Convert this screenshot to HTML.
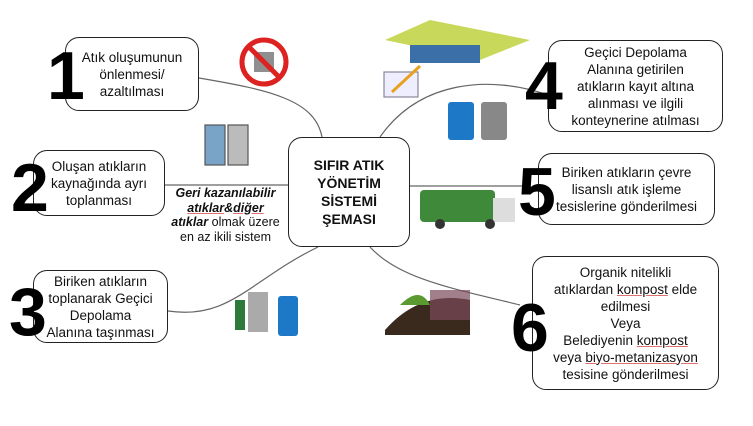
<!DOCTYPE html>
<html><head><meta charset="utf-8"><style>
body{margin:0;width:753px;height:426px;background:#fff;position:relative;overflow:hidden;font-family:"Liberation Sans",sans-serif;}
.b{position:absolute;border:1.5px solid #222;border-radius:14px;background:#fff;box-sizing:border-box;display:flex;align-items:center;justify-content:center;text-align:center;font-size:13.5px;line-height:17px;color:#111;}
.b>div{display:block;white-space:nowrap;}
.n{position:absolute;font-weight:bold;font-size:68px;line-height:1;color:#000;font-family:"Liberation Sans",sans-serif;}
.u{text-decoration:underline;text-decoration-color:#e07070;}
</style></head><body>
<svg width="753" height="426" style="position:absolute;left:0;top:0" fill="none" stroke="#666" stroke-width="1.2">
<path d="M199 78 C270 90 315 100 322 137"/>
<path d="M165 185 L288 185"/>
<path d="M168 311 C230 320 250 280 318 247"/>
<path d="M370 247 C400 280 460 290 520 305"/>
<path d="M380 137 C420 80 490 75 548 95"/>
<path d="M409 186 L525 186"/>
<circle cx="264" cy="62" r="22" stroke="#d22" stroke-width="5" fill="#fff"/>
<rect x="254" y="52" width="20" height="20" fill="#444" stroke="none" opacity=".6"/>
<line x1="249" y1="47" x2="279" y2="77" stroke="#d22" stroke-width="5"/>
<rect x="205" y="125" width="20" height="40" fill="#7aa3c8" stroke="#555"/>
<rect x="228" y="125" width="20" height="40" fill="#bbb" stroke="#555"/>
<polygon points="385,40 430,20 530,40 480,60" fill="#c8d85a" stroke="none"/>
<rect x="410" y="45" width="70" height="18" fill="#3a6fa8" stroke="none"/>
<rect x="384" y="72" width="34" height="25" fill="#eef" stroke="#889"/>
<line x1="392" y1="92" x2="420" y2="66" stroke="#e8a020" stroke-width="3"/>
<rect x="448" y="102" width="26" height="38" rx="3" fill="#1e78c8" stroke="none"/>
<rect x="481" y="102" width="26" height="38" rx="3" fill="#888" stroke="none"/>
<rect x="420" y="190" width="75" height="32" rx="4" fill="#3f8a3a" stroke="none"/>
<rect x="493" y="198" width="22" height="24" fill="#ddd" stroke="none"/>
<circle cx="440" cy="224" r="5" fill="#333" stroke="none"/><circle cx="490" cy="224" r="5" fill="#333" stroke="none"/>
<rect x="235" y="300" width="10" height="30" fill="#2b7a3a" stroke="none"/>
<rect x="248" y="292" width="20" height="40" fill="#aaa" stroke="none"/>
<rect x="278" y="296" width="20" height="40" rx="3" fill="#1e78c8" stroke="none"/>
<path d="M385 330 Q420 290 470 300 L470 335 L385 335Z" fill="#3a2a1e" stroke="none"/>
<path d="M400 305 q20 -20 30 0" fill="#5a9a30" stroke="none"/>
<rect x="430" y="290" width="40" height="30" fill="#7a4a5a" stroke="none" opacity=".7"/>
</svg>
<div class="b" style="left:65px;top:37px;width:134px;height:74px;"><div>Atık oluşumunun<br>önlenmesi/<br>azaltılması</div></div>
<div class="n" style="left:47px;top:42px;">1</div>
<div class="b" style="left:33px;top:150px;width:132px;height:66px;"><div>Oluşan atıkların<br>kaynağında ayrı<br>toplanması</div></div>
<div class="n" style="left:11px;top:154px;">2</div>
<div class="b" style="left:33px;top:270px;width:135px;height:73px;"><div>Biriken atıkların<br>toplanarak Geçici<br>Depolama<br>Alanına taşınması</div></div>
<div class="n" style="left:9px;top:278px;">3</div>
<div class="b" style="left:548px;top:40px;width:175px;height:92px;"><div>Geçici Depolama<br>Alanına getirilen<br>atıkların kayıt altına<br>alınması ve ilgili<br>konteynerine atılması</div></div>
<div class="n" style="left:525px;top:52px;">4</div>
<div class="b" style="left:538px;top:153px;width:177px;height:72px;"><div>Biriken atıkların çevre<br>lisanslı atık işleme<br>tesislerine gönderilmesi</div></div>
<div class="n" style="left:518px;top:158px;">5</div>
<div class="b" style="left:532px;top:256px;width:187px;height:134px;"><div>Organik nitelikli<br>atıklardan <span class="u">kompost</span> elde<br>edilmesi<br>Veya<br>Belediyenin <span class="u">kompost</span><br>veya <span class="u">biyo-metanizasyon</span><br>tesisine gönderilmesi</div></div>
<div class="n" style="left:511px;top:294px;">6</div>
<div class="b" style="left:288px;top:137px;width:122px;height:110px;font-weight:bold;font-size:14px;line-height:18px;"><div>SIFIR ATIK<br>YÖNETİM<br>SİSTEMİ<br>ŞEMASI</div></div>
<div style="position:absolute;left:163px;top:186px;width:125px;text-align:center;font-size:12.5px;line-height:14.5px;color:#111;white-space:nowrap;"><b><i>Geri kazanılabilir<br><span class="u">atıklar</span>&amp;<span class="u">diğer</span><br>atıklar</i></b> olmak üzere<br>en az ikili sistem</div>
</body></html>
